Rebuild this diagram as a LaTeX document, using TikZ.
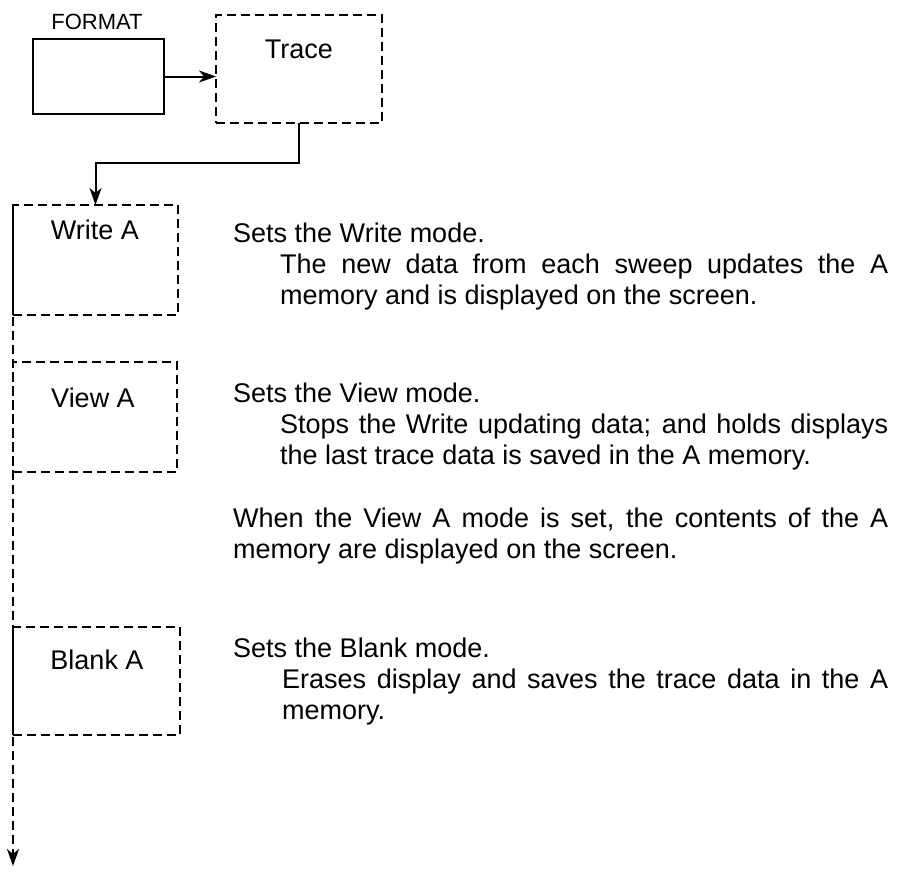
\documentclass[tikz,border=0pt]{standalone}
\usepackage{fontspec}
\setmainfont{Liberation Sans}
\usetikzlibrary{arrows.meta}
\begin{document}
\begin{tikzpicture}[x=1pt,y=-1pt,
 dbox/.style={draw, dash pattern=on 9pt off 5pt, line width=2pt, inner sep=0pt, outer sep=0pt, anchor=north west},
 sbox/.style={draw, line width=2pt, inner sep=0pt, outer sep=0pt, anchor=north west},
 lbl/.style={font=\fontsize{27}{31}\selectfont, anchor=base, inner sep=0pt},
 desc/.style={font=\fontsize{27}{31}\selectfont, anchor=base west, inner sep=0pt},
 conn/.style={line width=2pt, -{Stealth[length=17pt,width=12pt,inset=5pt]}},
 dconn/.style={line width=2pt, dash pattern=on 9pt off 5pt, -{Stealth[length=17pt,width=12pt,inset=5pt]}},
]
\useasboundingbox (0,0) rectangle (901,876);
% boxes
\node[sbox, minimum width=131pt, minimum height=75pt] (format) at (33,39) {};
\node[font=\fontsize{22}{26}\selectfont, anchor=base, inner sep=0pt] (formatlbl) at (97,29) {FORMAT};
\node[dbox, minimum width=166pt, minimum height=108pt] (trace) at (216,15) {};
\node[lbl] (tracet) at (299,58) {Trace};
\node[dbox, minimum width=165pt, minimum height=110pt] (write) at (13,205) {};
\node[lbl] (writet) at (95,239) {Write A};
\node[dbox, minimum width=164pt, minimum height=110pt] (view) at (13,362) {};
\node[lbl] (viewt) at (93,407) {View A};
\node[dbox, minimum width=167pt, minimum height=108pt] (blank) at (13,627) {};
\node[lbl] (blankt) at (97,669) {Blank A};
\coordinate (end) at (13,866);
% connectors
\draw[conn] (format.east) -- (format.east -| trace.west);
\draw[conn] (trace.south) -- ++(0,40) -| (write.north);
\draw[dconn] (write.north west) -- (end);
% descriptions
\node[desc] (w1) at (233,242) {Sets the Write mode.};
\node[desc] (w2) at (280,273) {\makebox[608pt][s]{The new data from each sweep updates the A}};
\node[desc] (w3) at (280,304) {memory and is displayed on the screen.};
\node[desc] (v1) at (233,402) {Sets the View mode.};
\node[desc] (v2) at (280,433) {\makebox[608pt][s]{Stops the Write updating data; and holds displays}};
\node[desc] (v3) at (280,464) {the last trace data is saved in the A memory.};
\node[desc] (n1) at (233,527) {\makebox[655pt][s]{When the View A mode is set, the contents of the A}};
\node[desc] (n2) at (233,558) {memory are displayed on the screen.};
\node[desc] (b1) at (233,657) {Sets the Blank mode.};
\node[desc] (b2) at (282,688) {\makebox[606pt][s]{Erases display and saves the trace data in the A}};
\node[desc] (b3) at (282,719) {memory.};
\end{tikzpicture}
\end{document}
